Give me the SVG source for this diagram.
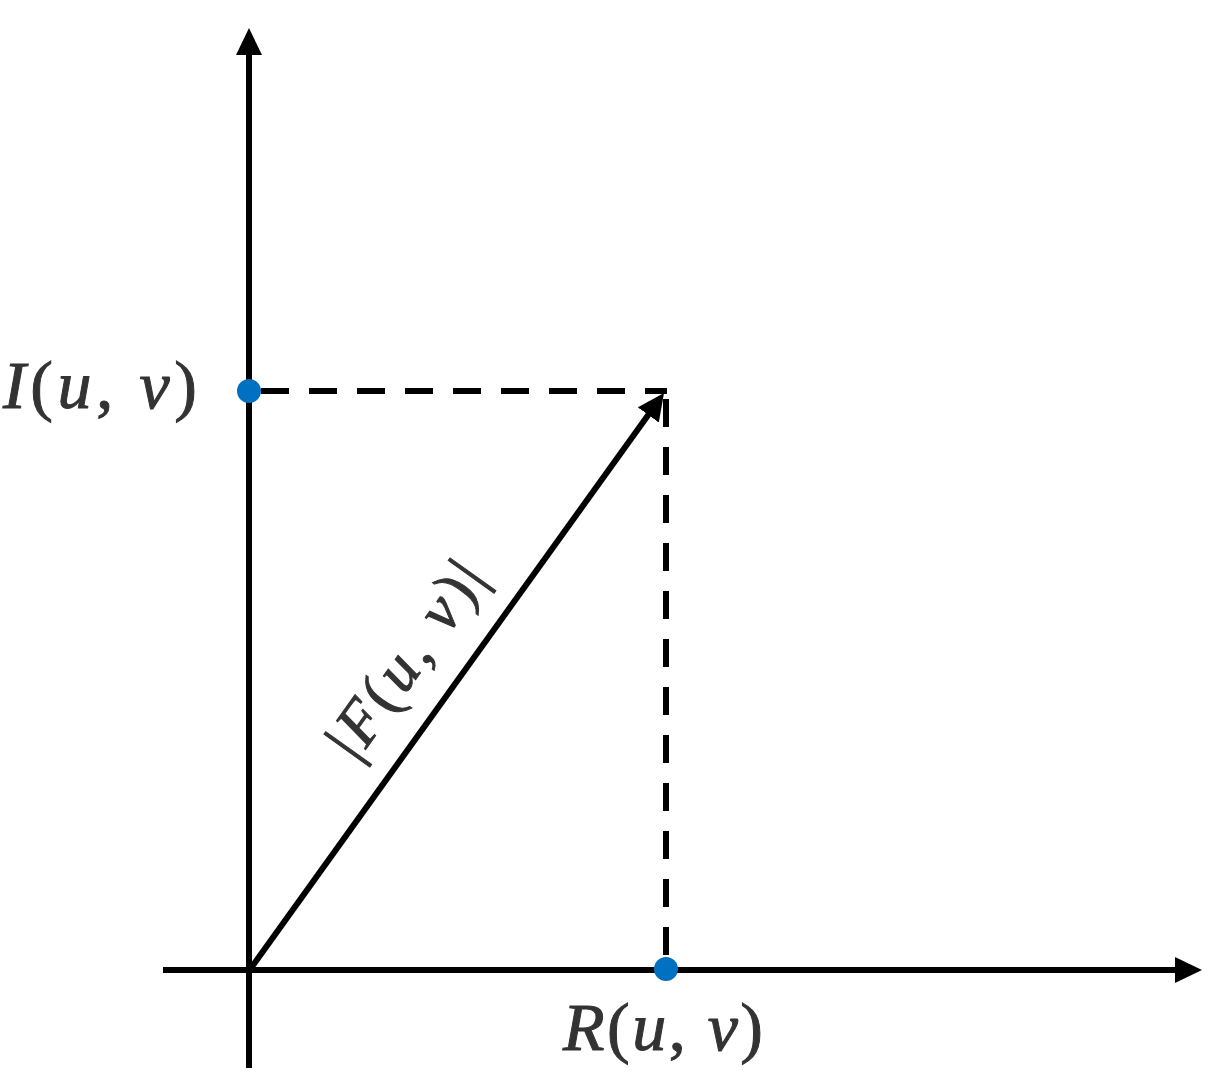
<svg xmlns="http://www.w3.org/2000/svg" width="1231" height="1091" viewBox="0 0 1231 1091">
  <style>
    .axis { stroke: #000; stroke-width: 6; fill: none; }
    .dash { stroke: #000; stroke-width: 6; fill: none; stroke-dasharray: 28 20; }
    .dot { fill: #0070C0; }
    .lbl { font-family: "Liberation Serif", "DejaVu Serif", serif; font-size: 68px; fill: #333; stroke: #333; stroke-width: 1; }
    .it { font-style: italic; }
  </style>
  <defs>
    <marker id="ah" markerUnits="userSpaceOnUse" markerWidth="27" markerHeight="26" refX="15" refY="13" orient="auto">
      <path d="M0,0 L27,13 L0,26 z" fill="#000"/>
    </marker>
  </defs>
  <rect width="1231" height="1091" fill="#fff"/>
  <g id="connectors">
    <line class="axis" x1="249" y1="1068" x2="249" y2="40" marker-end="url(#ah)"/>
    <line class="axis" x1="163" y1="970" x2="1190" y2="970" marker-end="url(#ah)"/>
    <line class="dash" x1="261" y1="391" x2="667" y2="391"/>
    <line class="dash" x1="666" y1="399" x2="666" y2="970"/>
    <line class="axis" x1="251" y1="968" x2="657" y2="402.7" marker-end="url(#ah)"/>
  </g>
  <g id="node-I">
    <circle class="dot" cx="249" cy="391" r="12"/>
    <text class="lbl" x="3" y="408" textLength="194" lengthAdjust="spacing"><tspan class="it">I</tspan>(<tspan class="it">u</tspan>, <tspan class="it">v</tspan>)</text>
  </g>
  <g id="node-R">
    <circle class="dot" cx="666" cy="969" r="12"/>
    <text class="lbl" x="563" y="1050" textLength="200" lengthAdjust="spacing"><tspan class="it">R</tspan>(<tspan class="it">u</tspan>, <tspan class="it">v</tspan>)</text>
  </g>
  <g id="label-F">
    <text class="lbl" style="font-size:62px" text-anchor="middle" transform="translate(422,671) rotate(-54.4)" textLength="226" lengthAdjust="spacing">|<tspan class="it">F</tspan>(<tspan class="it">u</tspan>, <tspan class="it">v</tspan>)|</text>
  </g>
</svg>
